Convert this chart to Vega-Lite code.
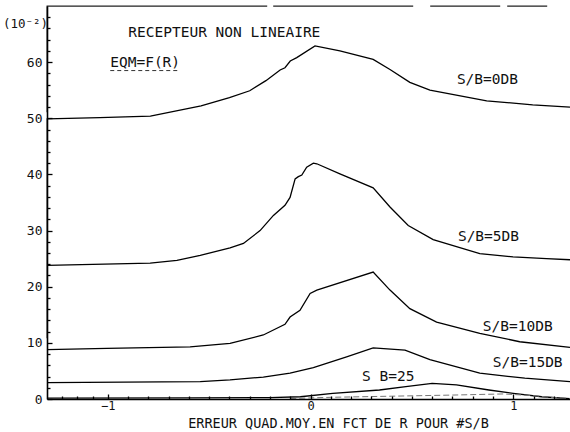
{
  "$schema": "https://vega.github.io/schema/vega-lite/v6.json",
  "width": 523,
  "height": 393,
  "autosize": "none",
  "padding": {"left": 47, "top": 6, "right": 0, "bottom": 33},
  "background": "white",
  "config": {
    "font": "DejaVu Sans Mono",
    "view": {"stroke": "#222", "strokeWidth": 1.3, "strokeDash": [220, 6, 140, 17, 70, 7, 40, 1000]},
    "axis": {"labelOverlap": false, "grid": false, "domainColor": "black", "domainWidth": 1.6, "tickColor": "black", "tickWidth": 1.3}
  },
  "datasets": {
    "curves": [
      {"s": "0", "r": -1.3, "e": 49.9}, {"s": "0", "r": -1.04, "e": 50.1}, {"s": "0", "r": -0.79, "e": 50.4}, {"s": "0", "r": -0.54, "e": 52.2}, {"s": "0", "r": -0.4, "e": 53.7}, {"s": "0", "r": -0.3, "e": 54.9}, {"s": "0", "r": -0.22, "e": 56.7}, {"s": "0", "r": -0.15, "e": 58.6}, {"s": "0", "r": -0.126, "e": 59.0}, {"s": "0", "r": -0.1, "e": 60.2}, {"s": "0", "r": -0.068, "e": 60.8}, {"s": "0", "r": 0.022, "e": 62.9}, {"s": "0", "r": 0.145, "e": 62.0}, {"s": "0", "r": 0.309, "e": 60.5}, {"s": "0", "r": 0.392, "e": 58.7}, {"s": "0", "r": 0.49, "e": 56.4}, {"s": "0", "r": 0.589, "e": 55.0}, {"s": "0", "r": 0.869, "e": 53.1}, {"s": "0", "r": 1.096, "e": 52.4}, {"s": "0", "r": 1.28, "e": 52.0},
      {"s": "5", "r": -1.3, "e": 23.8}, {"s": "5", "r": -0.791, "e": 24.2}, {"s": "5", "r": -0.659, "e": 24.7}, {"s": "5", "r": -0.544, "e": 25.6}, {"s": "5", "r": -0.397, "e": 26.9}, {"s": "5", "r": -0.331, "e": 27.7}, {"s": "5", "r": -0.249, "e": 30.0}, {"s": "5", "r": -0.183, "e": 32.7}, {"s": "5", "r": -0.126, "e": 34.5}, {"s": "5", "r": -0.101, "e": 35.9}, {"s": "5", "r": -0.076, "e": 39.2}, {"s": "5", "r": -0.06, "e": 39.6}, {"s": "5", "r": -0.043, "e": 39.9}, {"s": "5", "r": -0.019, "e": 41.3}, {"s": "5", "r": 0.014, "e": 42.0}, {"s": "5", "r": 0.031, "e": 41.9}, {"s": "5", "r": 0.145, "e": 40.1}, {"s": "5", "r": 0.309, "e": 37.6}, {"s": "5", "r": 0.392, "e": 34.2}, {"s": "5", "r": 0.482, "e": 30.9}, {"s": "5", "r": 0.605, "e": 28.4}, {"s": "5", "r": 0.835, "e": 25.9}, {"s": "5", "r": 0.999, "e": 25.3}, {"s": "5", "r": 1.164, "e": 25.0}, {"s": "5", "r": 1.28, "e": 24.8},
      {"s": "10", "r": -1.3, "e": 8.8}, {"s": "10", "r": -1.004, "e": 9.0}, {"s": "10", "r": -0.594, "e": 9.3}, {"s": "10", "r": -0.397, "e": 9.9}, {"s": "10", "r": -0.233, "e": 11.4}, {"s": "10", "r": -0.126, "e": 13.3}, {"s": "10", "r": -0.101, "e": 14.6}, {"s": "10", "r": -0.052, "e": 15.8}, {"s": "10", "r": -0.002, "e": 18.8}, {"s": "10", "r": 0.031, "e": 19.4}, {"s": "10", "r": 0.309, "e": 22.6}, {"s": "10", "r": 0.392, "e": 19.4}, {"s": "10", "r": 0.49, "e": 16.1}, {"s": "10", "r": 0.622, "e": 13.7}, {"s": "10", "r": 0.835, "e": 11.7}, {"s": "10", "r": 1.032, "e": 10.2}, {"s": "10", "r": 1.28, "e": 9.2},
      {"s": "15", "r": -1.3, "e": 2.9}, {"s": "15", "r": -0.544, "e": 3.1}, {"s": "15", "r": -0.397, "e": 3.4}, {"s": "15", "r": -0.233, "e": 3.9}, {"s": "15", "r": -0.101, "e": 4.6}, {"s": "15", "r": 0.014, "e": 5.6}, {"s": "15", "r": 0.178, "e": 7.5}, {"s": "15", "r": 0.309, "e": 9.1}, {"s": "15", "r": 0.466, "e": 8.7}, {"s": "15", "r": 0.589, "e": 7.0}, {"s": "15", "r": 0.835, "e": 4.6}, {"s": "15", "r": 1.057, "e": 3.7}, {"s": "15", "r": 1.28, "e": 3.1},
      {"s": "25", "r": -1.3, "e": 0.15}, {"s": "25", "r": -0.6, "e": 0.2}, {"s": "25", "r": -0.2, "e": 0.25}, {"s": "25", "r": -0.05, "e": 0.4}, {"s": "25", "r": 0.11, "e": 1.0}, {"s": "25", "r": 0.34, "e": 1.6}, {"s": "25", "r": 0.47, "e": 2.2}, {"s": "25", "r": 0.6, "e": 2.8}, {"s": "25", "r": 0.72, "e": 2.5}, {"s": "25", "r": 0.88, "e": 1.6}, {"s": "25", "r": 1.0, "e": 1.0}, {"s": "25", "r": 1.14, "e": 0.4}, {"s": "25", "r": 1.26, "e": 0.1}, {"s": "25", "r": 1.28, "e": 0.05}
    ],
    "faint": [
      {"s": "30", "r": -0.1, "e": 0.1}, {"s": "30", "r": 0.1, "e": 0.3}, {"s": "30", "r": 0.4, "e": 0.5}, {"s": "30", "r": 0.7, "e": 0.7}, {"s": "30", "r": 0.95, "e": 0.9}, {"s": "30", "r": 1.1, "e": 0.6}, {"s": "30", "r": 1.2, "e": 0.25}, {"s": "30", "r": 1.28, "e": 0.1}
    ],
    "labels": [
      {"t": "RECEPTEUR NON LINEAIRE", "r": -0.899, "e": 65.2},
      {"t": "EQM=F(R)", "r": -0.988, "e": 59.9},
      {"t": "S/B=0DB", "r": 0.722, "e": 56.8},
      {"t": "S/B=5DB", "r": 0.727, "e": 28.8},
      {"t": "S/B=10DB", "r": 0.85, "e": 12.8},
      {"t": "S/B=15DB", "r": 0.899, "e": 6.4},
      {"t": "S B=25", "r": 0.254, "e": 3.9}
    ],
    "underline": [
      {"r1": -0.988, "r2": -0.643, "e": 58.5}
    ]
  },
  "resolve": {"scale": {"x": "independent", "y": "independent"}, "axis": {"x": "independent", "y": "independent"}},
  "layer": [
    {
      "data": {"name": "curves"},
      "mark": {"type": "line", "color": "black", "strokeWidth": 1.3},
      "encoding": {
        "x": {
          "field": "r", "type": "quantitative",
          "scale": {"domain": [-1.3, 1.28], "nice": false, "zero": false},
          "axis": {
            "orient": "bottom", "zindex": 2,
            "title": "ERREUR QUAD.MOY.EN FCT DE R POUR #S/B",
            "titleFont": "DejaVu Sans Mono", "titleFontSize": 13.5, "titleFontWeight": "normal", "titleColor": "#111",
            "titleX": 291, "titleY": 24, "titleAlign": "center", "titleBaseline": "middle",
            "values": [-1, 0, 1],
            "labelFont": "DejaVu Sans Mono", "labelFontSize": 12, "labelColor": "#111", "labelPadding": 6,
            "tickSize": -5
          }
        },
        "y": {
          "field": "e", "type": "quantitative",
          "scale": {"domain": [0, 70], "nice": false, "zero": true},
          "axis": {
            "orient": "left", "zindex": 2,
            "title": "(10⁻²)",
            "titleFont": "DejaVu Sans Mono", "titleFontSize": 12.5, "titleFontWeight": "normal", "titleColor": "#111",
            "titleAngle": 0, "titleX": -22, "titleY": 17, "titleAlign": "center", "titleBaseline": "middle",
            "values": [0, 10, 20, 30, 40, 50, 60],
            "labelFont": "DejaVu Sans Mono", "labelFontSize": 13, "labelColor": "#111", "labelPadding": 10,
            "tickSize": -5
          }
        },
        "detail": {"field": "s", "type": "nominal"}
      }
    },
    {
      "data": {"name": "faint"},
      "mark": {"type": "line", "color": "#777", "strokeWidth": 1, "strokeDash": [6, 3]},
      "encoding": {
        "x": {
          "field": "r", "type": "quantitative",
          "scale": {"domain": [-1.3, 1.28], "nice": false, "zero": false},
          "axis": {
            "orient": "bottom", "zindex": 2, "title": null, "labels": false, "domain": false,
            "values": [-1.225, -1.15, -1.075, -0.9, -0.8, -0.7, -0.6, -0.5, -0.4, -0.3, -0.2, -0.1, 0.1, 0.2, 0.3, 0.4, 0.5, 0.6, 0.7, 0.8, 0.9, 1.1, 1.2],
            "tickSize": -3
          }
        },
        "y": {
          "field": "e", "type": "quantitative",
          "scale": {"domain": [0, 70], "nice": false, "zero": true},
          "axis": {
            "orient": "left", "zindex": 2, "title": null, "labels": false, "domain": false,
            "values": [2, 4, 6, 8, 12, 14, 16, 18, 22, 24, 26, 28, 32, 34, 36, 38, 42, 44, 46, 48, 52, 54, 56, 58, 62, 64, 66, 68],
            "tickSize": -3
          }
        },
        "detail": {"field": "s", "type": "nominal"}
      }
    },
    {
      "data": {"name": "labels"},
      "mark": {"type": "text", "align": "left", "baseline": "middle", "fontSize": 14.5, "font": "DejaVu Sans Mono", "color": "#111"},
      "encoding": {
        "x": {"field": "r", "type": "quantitative", "scale": {"domain": [-1.3, 1.28], "nice": false, "zero": false}, "axis": null},
        "y": {"field": "e", "type": "quantitative", "scale": {"domain": [0, 70], "nice": false, "zero": true}, "axis": null},
        "text": {"field": "t", "type": "nominal"}
      }
    },
    {
      "data": {"name": "underline"},
      "mark": {"type": "rule", "color": "#333", "strokeWidth": 1, "strokeDash": [4, 3]},
      "encoding": {
        "x": {"field": "r1", "type": "quantitative", "scale": {"domain": [-1.3, 1.28], "nice": false, "zero": false}, "axis": null},
        "x2": {"field": "r2"},
        "y": {"field": "e", "type": "quantitative", "scale": {"domain": [0, 70], "nice": false, "zero": true}, "axis": null}
      }
    }
  ]
}
